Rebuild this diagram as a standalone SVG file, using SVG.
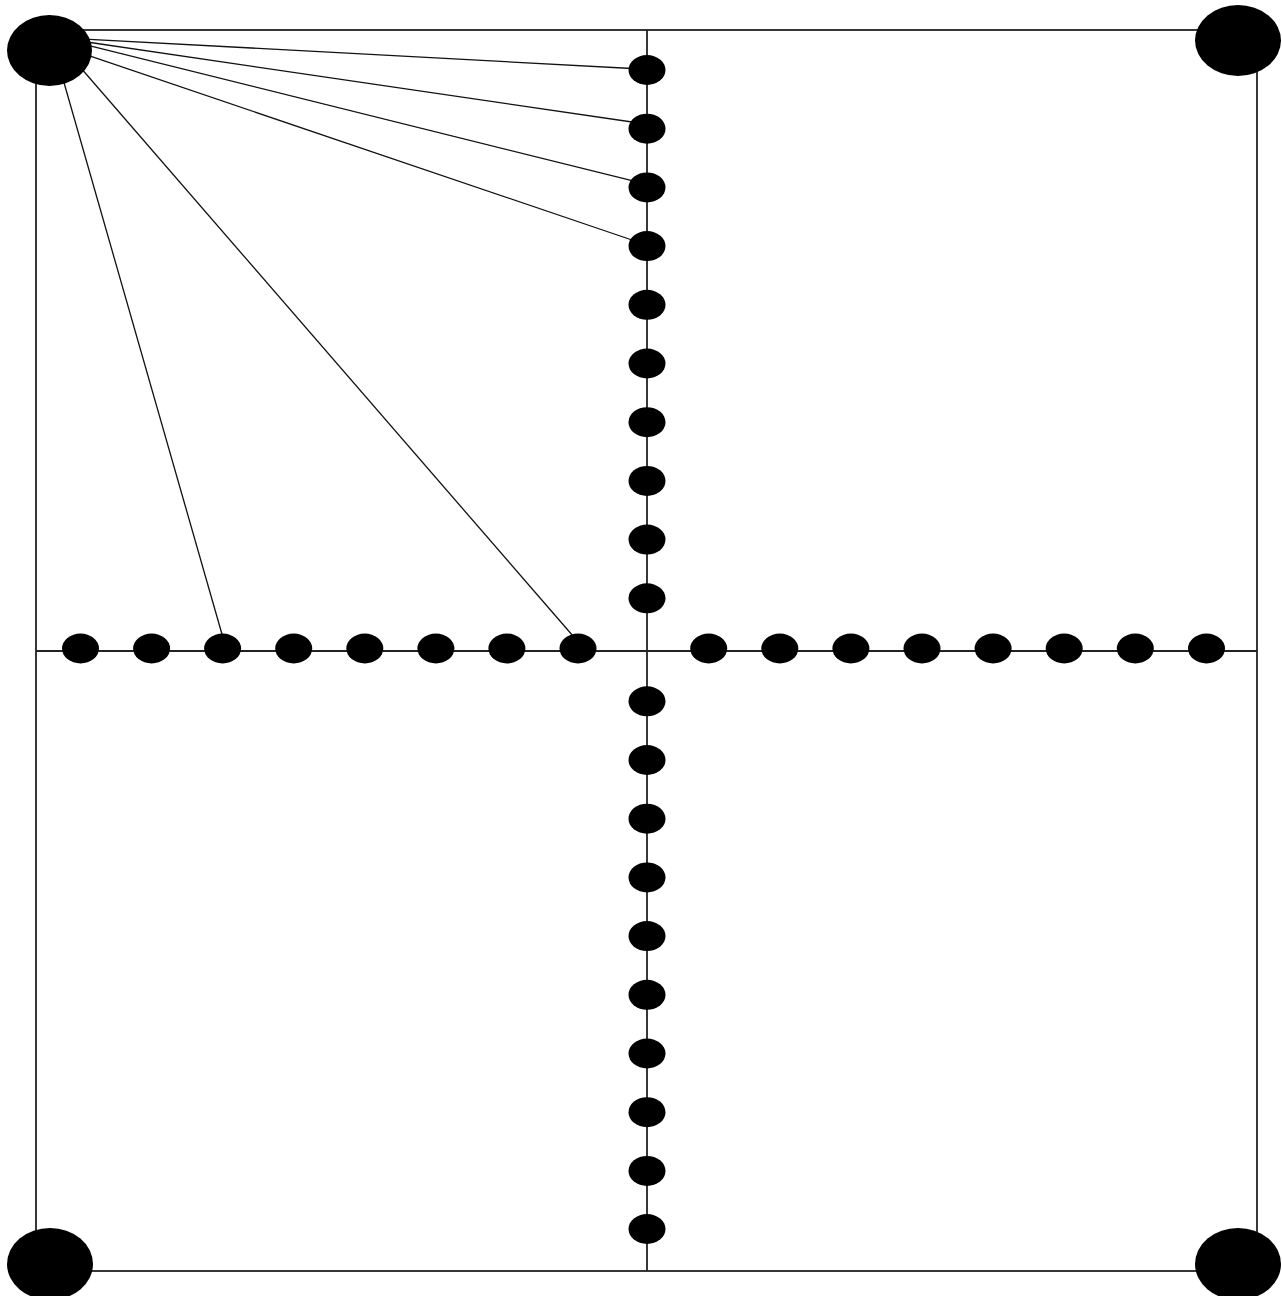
<svg xmlns="http://www.w3.org/2000/svg" width="1282" height="1296" viewBox="0 0 1282 1296">
<style>
.frame{fill:none;stroke:#222;stroke-width:1.8}
.edge{stroke:#111;stroke-width:1.3;fill:none}
.big{fill:#000}
.dot{fill:#000}
</style>
<rect width="1282" height="1296" fill="#fff"/>
<g id="frame">
<rect class="frame" x="36" y="30" width="1221" height="1241"/>
<line class="frame" x1="647" y1="30" x2="647" y2="1271"/>
<line class="frame" x1="36" y1="651" x2="1257" y2="651"/>
</g>
<g id="connectors">
<line class="edge" x1="80" y1="38.8" x2="632" y2="68.5"/>
<line class="edge" x1="80" y1="41" x2="632" y2="122"/>
<line class="edge" x1="80" y1="43.4" x2="632" y2="180.7"/>
<line class="edge" x1="80" y1="52.7" x2="632" y2="240"/>
<line class="edge" x1="62.1" y1="76" x2="222.5" y2="636"/>
<line class="edge" x1="75.7" y1="62" x2="573" y2="636"/>
</g>
<g id="n-tl"><ellipse class="big" cx="49.5" cy="50.5" rx="42.5" ry="35.5"/></g>
<g id="n-tr"><ellipse class="big" cx="1238" cy="40.5" rx="43" ry="35.5"/></g>
<g id="n-bl"><ellipse class="big" cx="50" cy="1264" rx="43" ry="36"/></g>
<g id="n-br"><ellipse class="big" cx="1238" cy="1264" rx="43" ry="36"/></g>
<g id="n-v1"><ellipse class="dot" cx="647" cy="70" rx="18.5" ry="15"/></g>
<g id="n-v2"><ellipse class="dot" cx="647" cy="128.7" rx="18.5" ry="15"/></g>
<g id="n-v3"><ellipse class="dot" cx="647" cy="187.4" rx="18.5" ry="15"/></g>
<g id="n-v4"><ellipse class="dot" cx="647" cy="246.1" rx="18.5" ry="15"/></g>
<g id="n-v5"><ellipse class="dot" cx="647" cy="304.8" rx="18.5" ry="15"/></g>
<g id="n-v6"><ellipse class="dot" cx="647" cy="363.5" rx="18.5" ry="15"/></g>
<g id="n-v7"><ellipse class="dot" cx="647" cy="422.2" rx="18.5" ry="15"/></g>
<g id="n-v8"><ellipse class="dot" cx="647" cy="480.9" rx="18.5" ry="15"/></g>
<g id="n-v9"><ellipse class="dot" cx="647" cy="539.6" rx="18.5" ry="15"/></g>
<g id="n-v10"><ellipse class="dot" cx="647" cy="598.3" rx="18.5" ry="15"/></g>
<g id="n-v11"><ellipse class="dot" cx="647" cy="701.3" rx="18.5" ry="15"/></g>
<g id="n-v12"><ellipse class="dot" cx="647" cy="760" rx="18.5" ry="15"/></g>
<g id="n-v13"><ellipse class="dot" cx="647" cy="818.7" rx="18.5" ry="15"/></g>
<g id="n-v14"><ellipse class="dot" cx="647" cy="877.4" rx="18.5" ry="15"/></g>
<g id="n-v15"><ellipse class="dot" cx="647" cy="936.1" rx="18.5" ry="15"/></g>
<g id="n-v16"><ellipse class="dot" cx="647" cy="994.8" rx="18.5" ry="15"/></g>
<g id="n-v17"><ellipse class="dot" cx="647" cy="1053.5" rx="18.5" ry="15"/></g>
<g id="n-v18"><ellipse class="dot" cx="647" cy="1112.2" rx="18.5" ry="15"/></g>
<g id="n-v19"><ellipse class="dot" cx="647" cy="1170.9" rx="18.5" ry="15"/></g>
<g id="n-v20"><ellipse class="dot" cx="647" cy="1229" rx="18.5" ry="15"/></g>
<g id="n-h1"><ellipse class="dot" cx="80.5" cy="648.5" rx="18.5" ry="15"/></g>
<g id="n-h2"><ellipse class="dot" cx="151.6" cy="648.5" rx="18.5" ry="15"/></g>
<g id="n-h3"><ellipse class="dot" cx="222.6" cy="648.5" rx="18.5" ry="15"/></g>
<g id="n-h4"><ellipse class="dot" cx="293.7" cy="648.5" rx="18.5" ry="15"/></g>
<g id="n-h5"><ellipse class="dot" cx="364.8" cy="648.5" rx="18.5" ry="15"/></g>
<g id="n-h6"><ellipse class="dot" cx="435.9" cy="648.5" rx="18.5" ry="15"/></g>
<g id="n-h7"><ellipse class="dot" cx="506.9" cy="648.5" rx="18.5" ry="15"/></g>
<g id="n-h8"><ellipse class="dot" cx="578" cy="648.5" rx="18.5" ry="15"/></g>
<g id="n-h9"><ellipse class="dot" cx="708.7" cy="648.5" rx="18.5" ry="15"/></g>
<g id="n-h10"><ellipse class="dot" cx="779.8" cy="648.5" rx="18.5" ry="15"/></g>
<g id="n-h11"><ellipse class="dot" cx="850.9" cy="648.5" rx="18.5" ry="15"/></g>
<g id="n-h12"><ellipse class="dot" cx="922" cy="648.5" rx="18.5" ry="15"/></g>
<g id="n-h13"><ellipse class="dot" cx="993.1" cy="648.5" rx="18.5" ry="15"/></g>
<g id="n-h14"><ellipse class="dot" cx="1064.2" cy="648.5" rx="18.5" ry="15"/></g>
<g id="n-h15"><ellipse class="dot" cx="1135.3" cy="648.5" rx="18.5" ry="15"/></g>
<g id="n-h16"><ellipse class="dot" cx="1206.5" cy="648.5" rx="18.5" ry="15"/></g>
</svg>
